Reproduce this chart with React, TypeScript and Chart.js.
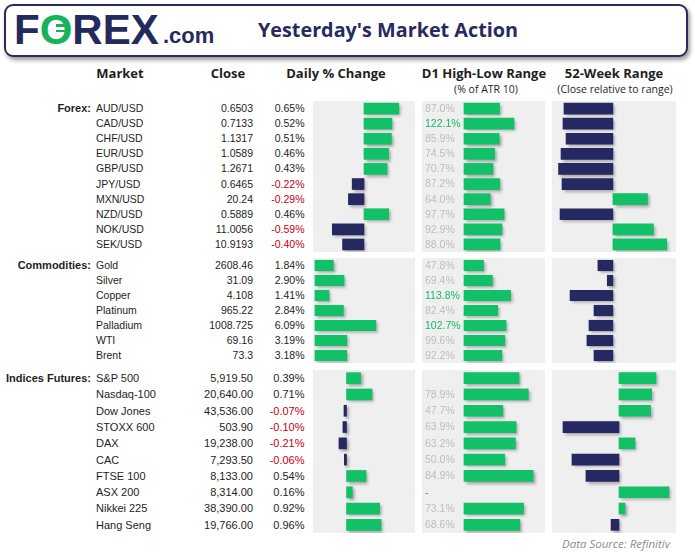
import React, { useEffect, useRef } from "react";
import { Chart, registerables } from "chart.js";
Chart.register(...registerables);

// ---------- Forex ----------
const forexNames = ["AUD/USD", "CAD/USD", "CHF/USD", "EUR/USD", "GBP/USD", "JPY/USD", "MXN/USD", "NZD/USD", "NOK/USD", "SEK/USD"];
const forexClose = ["0.6503", "0.7133", "1.1317", "1.0589", "1.2671", "0.6465", "20.24", "0.5889", "11.0056", "10.9193"];
const forexChange = [0.65, 0.52, 0.51, 0.46, 0.43, -0.22, -0.29, 0.46, -0.59, -0.4];
const forexAtr = [87.0, 122.1, 85.9, 74.5, 70.7, 87.2, 64.0, 97.7, 92.9, 88.0];
const forexAtrLabels = ["87.0%", "122.1%", "85.9%", "74.5%", "70.7%", "87.2%", "64.0%", "97.7%", "92.9%", "88.0%"];
const forexRange52 = [5.0, 4.1, 6.9, 2.3, 0.0, 3.2, 81.8, 1.4, 87.3, 99.5];

// ---------- Commodities ----------
const comNames = ["Gold", "Silver", "Copper", "Platinum", "Palladium", "WTI", "Brent"];
const comClose = ["2608.46", "31.09", "4.108", "965.22", "1008.725", "69.16", "73.3"];
const comChange = [1.84, 2.9, 1.41, 2.84, 6.09, 3.19, 3.18];
const comAtr = [47.8, 69.4, 113.8, 82.4, 102.7, 99.6, 92.2];
const comAtrLabels = ["47.8%", "69.4%", "113.8%", "82.4%", "102.7%", "99.6%", "92.2%"];
const comRange52 = [36.2, 44.8, 10.6, 32.6, 28.0, 26.1, 32.6];

// ---------- Indices Futures ----------
const idxNames = ["S&P 500", "Nasdaq-100", "Dow Jones", "STOXX 600", "DAX", "CAC", "FTSE 100", "ASX 200", "Nikkei 225", "Hang Seng"];
const idxClose = ["5,919.50", "20,640.00", "43,536.00", "503.90", "19,238.00", "7,293.50", "8,133.00", "8,314.00", "38,390.00", "19,766.00"];
const idxChange = [0.39, 0.71, -0.07, -0.1, -0.21, -0.06, 0.54, 0.16, 0.92, 0.96];
const idxAtr: (number | null)[] = [67.5, 78.9, 47.7, 63.9, 63.2, 50.0, 84.9, null, 73.1, 68.6];
const idxAtrLabels = ["", "78.9%", "47.7%", "63.9%", "63.2%", "50.0%", "84.9%", "-", "73.1%", "68.6%"];
const idxRange52 = [83.0, 79.2, 78.3, 0.0, 64.3, 8.0, 20.5, 94.6, 55.4, 42.9];

const GREEN = "#12c068";
const NAVY = "#262862";
const PANEL_BG = "#efefef";
const TEXT = "#1e1e1e";
const RED = "#c4001a";
const ATR_GRAY = "#bdbdbd";
const ATR_GREEN = "#17b869";
const BODY_FONT = "'Liberation Sans', Arial, sans-serif";
const HEAD_FONT = "'Open Sans', 'Liberation Sans', sans-serif";

type PanelProps = {
  left: number;
  top: number;
  width: number;
  height: number;
  labels: string[];
  values: any[];
  colors: string[];
  min: number;
  max: number;
  thickness: number;
  textLabels?: string[];
  textColors?: string[];
};

function BarPanel(p: PanelProps) {
  const ref = useRef<HTMLCanvasElement>(null);
  useEffect(() => {
    const canvas = ref.current!;
    const bgPlugin = {
      id: "panelBg",
      beforeDraw(chart: any) {
        const ctx = chart.ctx;
        ctx.save();
        ctx.fillStyle = PANEL_BG;
        ctx.fillRect(0, 0, chart.width, chart.height);
        ctx.restore();
      },
    };
    const shadowPlugin = {
      id: "barShadow",
      beforeDatasetsDraw(chart: any) {
        const ctx = chart.ctx;
        ctx.save();
        ctx.shadowColor = "rgba(0,0,0,0.32)";
        ctx.shadowBlur = 3;
        ctx.shadowOffsetX = 2;
        ctx.shadowOffsetY = 2;
      },
      afterDatasetsDraw(chart: any) {
        chart.ctx.restore();
      },
    };
    const textPlugin = {
      id: "rowText",
      afterDatasetsDraw(chart: any) {
        if (!p.textLabels) return;
        const ctx = chart.ctx;
        const ys = chart.scales.y;
        ctx.save();
        ctx.font = "10.5px " + BODY_FONT;
        ctx.textAlign = "left";
        ctx.textBaseline = "middle";
        p.textLabels.forEach((t, i) => {
          ctx.fillStyle = p.textColors ? p.textColors[i] : ATR_GRAY;
          ctx.fillText(t, chart.chartArea.left + 3, ys.getPixelForValue(i) + 0.5);
        });
        ctx.restore();
      },
    };
    const chart = new Chart(canvas, {
      type: "bar",
      data: {
        labels: p.labels,
        datasets: [
          {
            data: p.values,
            backgroundColor: p.colors,
            barThickness: p.thickness,
            borderWidth: 0,
          },
        ],
      },
      options: {
        indexAxis: "y",
        responsive: false,
        maintainAspectRatio: false,
        animation: false,
        layout: { padding: 0 },
        scales: {
          x: { type: "linear", min: p.min, max: p.max, display: false },
          y: { display: false },
        },
        plugins: { legend: { display: false }, tooltip: { enabled: false } },
      },
      plugins: [bgPlugin, shadowPlugin, textPlugin],
    } as any);
    return () => chart.destroy();
  }, []);
  return (
    <canvas
      ref={ref}
      width={p.width}
      height={p.height}
      style={{ position: "absolute", left: p.left, top: p.top, width: p.width, height: p.height }}
    />
  );
}

type SectionProps = {
  title: string;
  top: number;
  rowH: number;
  names: string[];
  closes: string[];
  changes: number[];
  size: number;
};

function SectionText(s: SectionProps) {
  return (
    <>
      {s.names.map((n, i) => {
        const t = s.top + s.rowH * i;
        const common: any = {
          position: "absolute",
          top: t,
          height: s.rowH,
          lineHeight: s.rowH + "px",
          fontFamily: BODY_FONT,
          fontSize: s.size,
          color: TEXT,
          whiteSpace: "nowrap",
        };
        return (
          <React.Fragment key={n}>
            {i === 0 && (
              <div style={{ ...common, left: 0, width: 91, textAlign: "right", fontWeight: "bold", fontSize: 11 }}>
                {s.title}
              </div>
            )}
            <div style={{ ...common, left: 96 }}>{n}</div>
            <div style={{ ...common, left: 150, width: 103, textAlign: "right" }}>{s.closes[i]}</div>
            <div
              style={{
                ...common,
                left: 250,
                width: 54.5,
                textAlign: "right",
                color: s.changes[i] < 0 ? RED : TEXT,
              }}
            >
              {s.changes[i].toFixed(2) + "%"}
            </div>
          </React.Fragment>
        );
      })}
    </>
  );
}

const C1 = { left: 313, width: 102 };
const C2 = { left: 422, width: 123 };
const C3 = { left: 552, width: 124 };

const FX = { top: 101, rowH: 15.1 };
const CM = { top: 258, rowH: 15 };
const IX = { top: 370, rowH: 16.3 };

const signColors = (arr: number[]) => arr.map((v) => (v >= 0 ? GREEN : NAVY));
const rangeColors = (arr: number[]) => arr.map((v) => (v >= 50 ? GREEN : NAVY));
const floatFrom50 = (arr: number[]) => arr.map((v) => [50, v]);
const atrColors = (arr: string[]) => arr.map((l) => (l === "-" || parseFloat(l) > 100 ? ATR_GREEN : ATR_GRAY));

export default function App() {
  const headStyle: any = {
    position: "absolute",
    top: 65,
    lineHeight: "16px",
    fontFamily: HEAD_FONT,
    fontWeight: 700,
    fontSize: 13,
    color: TEXT,
    textAlign: "center",
    whiteSpace: "nowrap",
  };
  const subStyle: any = {
    position: "absolute",
    top: 82,
    lineHeight: "14px",
    fontFamily: HEAD_FONT,
    fontSize: 10.5,
    color: TEXT,
    textAlign: "center",
    whiteSpace: "nowrap",
  };
  return (
    <div style={{ position: "fixed", left: 0, top: 0, width: 695, height: 556, background: "#fff", overflow: "hidden" }}>
      {/* header box */}
      <div
        style={{
          position: "absolute",
          left: 4,
          top: 4,
          width: 684,
          height: 53,
          boxSizing: "border-box",
          border: "2px solid #2a2c5e",
          borderRadius: 9,
          boxShadow: "2px 3px 4px rgba(0,0,0,0.4)",
          background: "#fff",
        }}
      />
      {/* logo */}
      <div
        style={{
          position: "absolute",
          left: 14,
          top: 9,
          lineHeight: "42px",
          fontFamily: BODY_FONT,
          fontWeight: "bold",
          fontSize: 42,
          color: "#252a5c",
          whiteSpace: "nowrap",
        }}
      >
        F<span style={{ color: "#14b35c" }}>O</span>REX
      </div>
      <div style={{ position: "absolute", left: 56, top: 24, width: 12, height: 2.5, background: "#14b35c" }} />
      <div style={{ position: "absolute", left: 56, top: 29.5, width: 12, height: 2.5, background: "#14b35c" }} />
      <div
        style={{
          position: "absolute",
          left: 163,
          top: 25,
          lineHeight: "22px",
          fontFamily: BODY_FONT,
          fontWeight: "bold",
          fontSize: 22,
          color: "#252a5c",
          whiteSpace: "nowrap",
        }}
      >
        .com
      </div>
      {/* title */}
      <div
        style={{
          position: "absolute",
          left: 258,
          top: 20,
          lineHeight: "20px",
          fontFamily: HEAD_FONT,
          fontWeight: 700,
          fontSize: 19.8,
          color: "#262a5e",
          whiteSpace: "nowrap",
        }}
      >
        Yesterday's Market Action
      </div>

      {/* column headers */}
      <div style={{ ...headStyle, left: 70, width: 100 }}>Market</div>
      <div style={{ ...headStyle, left: 178, width: 100 }}>Close</div>
      <div style={{ ...headStyle, left: 276, width: 120 }}>Daily % Change</div>
      <div style={{ ...headStyle, left: 414, width: 140 }}>D1 High-Low Range</div>
      <div style={{ ...headStyle, left: 549, width: 130 }}>52-Week Range</div>
      <div style={{ ...subStyle, left: 416, width: 140 }}>(% of ATR 10)</div>
      <div style={{ ...subStyle, left: 549, width: 132 }}>(Close relative to range)</div>

      {/* text rows */}
      <SectionText title="Forex:" top={FX.top} rowH={FX.rowH} names={forexNames} closes={forexClose} changes={forexChange} size={10.5} />
      <SectionText title="Commodities:" top={CM.top} rowH={CM.rowH} names={comNames} closes={comClose} changes={comChange} size={10.5} />
      <SectionText title="Indices Futures:" top={IX.top} rowH={IX.rowH} names={idxNames} closes={idxClose} changes={idxChange} size={11} />

      {/* Forex panels */}
      <BarPanel {...C1} top={FX.top} height={FX.rowH * 10} labels={forexNames} values={forexChange} colors={signColors(forexChange)} min={-0.95} max={0.95} thickness={11} />
      <BarPanel {...C2} top={FX.top} height={FX.rowH * 10} labels={forexNames} values={forexAtr} colors={forexAtr.map(() => GREEN)} min={-102.4} max={197.6} thickness={11} textLabels={forexAtrLabels} textColors={atrColors(forexAtrLabels)} />
      <BarPanel {...C3} top={FX.top} height={FX.rowH * 10} labels={forexNames} values={floatFrom50(forexRange52)} colors={rangeColors(forexRange52)} min={-6} max={108} thickness={11} />

      {/* Commodities panels */}
      <BarPanel {...C1} top={CM.top} height={CM.rowH * 7} labels={comNames} values={comChange} colors={signColors(comChange)} min={-0.2} max={10} thickness={10.5} />
      <BarPanel {...C2} top={CM.top} height={CM.rowH * 7} labels={comNames} values={comAtr} colors={comAtr.map(() => GREEN)} min={-102.4} max={197.6} thickness={10.5} textLabels={comAtrLabels} textColors={atrColors(comAtrLabels)} />
      <BarPanel {...C3} top={CM.top} height={CM.rowH * 7} labels={comNames} values={floatFrom50(comRange52)} colors={rangeColors(comRange52)} min={-6} max={108} thickness={10.5} />

      {/* Indices panels */}
      <BarPanel {...C1} top={IX.top} height={IX.rowH * 10} labels={idxNames} values={idxChange} colors={signColors(idxChange)} min={-0.93} max={1.9} thickness={11} />
      <BarPanel {...C2} top={IX.top} height={IX.rowH * 10} labels={idxNames} values={idxAtr} colors={idxAtr.map(() => GREEN)} min={-51.5} max={99.4} thickness={11} textLabels={idxAtrLabels} textColors={atrColors(idxAtrLabels)} />
      <BarPanel {...C3} top={IX.top} height={IX.rowH * 10} labels={idxNames} values={floatFrom50(idxRange52)} colors={rangeColors(idxRange52)} min={-9.8} max={100.9} thickness={11} />

      {/* source */}
      <div
        style={{
          position: "absolute",
          left: 520,
          width: 150,
          top: 536,
          lineHeight: "16px",
          textAlign: "right",
          fontFamily: HEAD_FONT,
          fontStyle: "italic",
          fontSize: 11.5,
          color: "#8c8c8c",
          whiteSpace: "nowrap",
        }}
      >
        Data Source: Refinitiv
      </div>
    </div>
  );
}
